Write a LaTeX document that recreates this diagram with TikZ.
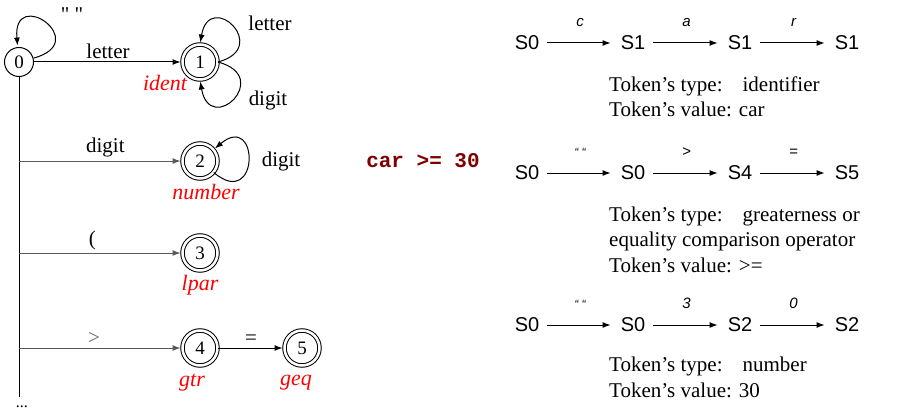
\documentclass[tikz,border=0pt]{standalone}
\usepackage{fontspec}
\setmainfont{Liberation Serif}
\setsansfont{Liberation Sans}
\setmonofont{Liberation Mono}
\usetikzlibrary{arrows.meta}
\definecolor{codered}{RGB}{128,0,0}

\begin{document}
\begin{tikzpicture}[x=1pt, y=1pt, >={Latex[length=8pt,width=6pt]},
  every node/.style={font=\fontsize{21}{23}\selectfont},
  state/.style={circle, draw, line width=1pt, minimum size=29pt, inner sep=0pt, font=\fontsize{19}{21}\selectfont},
  final/.style={state, double, double distance=2.5pt, minimum size=35pt},
  tag/.style={text=red, font=\fontsize{22}{24}\selectfont\itshape},
  lbl/.style={above, inner sep=3pt, text=black},
  trans/.style={->, line width=1pt, shorten >=1.5pt},
  branch/.style={trans, black!65},
  st/.style={font=\sffamily\fontsize{20}{22}\selectfont, inner sep=0pt},
  sym/.style={font=\sffamily\itshape\fontsize{15}{17}\selectfont, inner sep=0pt, above=16pt},
  quo/.style={sym, font=\sffamily\itshape\fontsize{12}{13}\selectfont},
  run/.style={->, line width=1pt, shorten <=8pt, shorten >=10pt},
  info/.style={anchor=base west, align=left, inner sep=0pt, font=\fontsize{21}{25.5}\selectfont}]
\useasboundingbox (0,0) rectangle (906,-412);

\node[state] (n0) at (19,-62) {0};
\node[final] (n1) at (200,-62) {1};
\node[final] (n2) at (200,-161) {2};
\node[final] (n3) at (200,-253) {3};
\node[final] (n4) at (200,-348) {4};
\node[final] (n5) at (302,-348) {5};
\node[tag] (t1) at (165,-83) {ident};
\node[tag] (t2) at (206,-192) {number};
\node[tag] (t3) at (200,-285) {lpar};
\node[tag] (t4) at (192,-383) {gtr};
\node[tag] (t5) at (296,-383) {geq};

\coordinate (b2) at (19,-161);
\coordinate (b3) at (19,-253);
\coordinate (b4) at (19,-348);
\coordinate (end) at (19,-397);
\draw[line width=1pt] (n0) -- (end);
\node[font=\fontsize{16}{18}\selectfont] (more) at (22,-407) {...};

\draw[trans] (n0) to[out=15, in=95, distance=62pt] (n0);
\node[font=\fontsize{21}{23}\selectfont\addfontfeature{Ligatures=TeXOff}] (l0) at (72,-15) {" "};
\draw[trans] (n0) -- node[lbl] {letter} (n1);
\draw[trans] (n1.east) to[out=15, in=80, distance=56pt] (n1.north);
\node (l1) at (270,-23) {letter};
\draw[trans] (n1.east) to[out=-15, in=-80, distance=58pt] (n1.south);
\node (l2) at (268,-100) {digit};
\draw[branch] (b2) -- node[lbl, pos=0.53] {digit} (n2);
\draw[trans] (n2) to[out=-40, in=40, distance=60pt] (n2);
\node (l3) at (281,-161) {digit};
\draw[branch] (b3) -- node[lbl, pos=0.45] {(} (n3);
\draw[branch] (b4) -- node[lbl, pos=0.46, text=black!60] {>} (n4);
\draw[trans] (n4) -- node[lbl] {=} (n5);

\node[font=\ttfamily\bfseries\fontsize{21}{23}\selectfont, text=codered] (expr) at (423,-161) {car >= 30};

\node[st] (a0) at (527,-43) {S0};
\node[st] (a1) at (633,-43) {S1};
\node[st] (a2) at (740,-43) {S1};
\node[st] (a3) at (847,-43) {S1};
\draw[run] (a0) -- node[sym] {c} (a1);
\draw[run] (a1) -- node[sym] {a} (a2);
\draw[run] (a2) -- node[sym] {r} (a3);
\node[info] (i1) at (609,-117) {Token’s type:\hspace{20pt}identifier\\Token’s value: car};

\node[st] (c0) at (527,-173) {S0};
\node[st] (c1) at (633,-173) {S0};
\node[st] (c2) at (740,-173) {S4};
\node[st] (c3) at (847,-173) {S5};
\draw[run] (c0) -- node[quo] {“ “} (c1);
\draw[run] (c1) -- node[sym] {>} (c2);
\draw[run] (c2) -- node[sym] {=} (c3);
\node[info] (i2) at (609,-272) {Token’s type:\hspace{20pt}greaterness or\\equality comparison operator\\Token’s value: >=};

\node[st] (d0) at (527,-325) {S0};
\node[st] (d1) at (633,-325) {S0};
\node[st] (d2) at (740,-325) {S2};
\node[st] (d3) at (847,-325) {S2};
\draw[run] (d0) -- node[quo] {“ “} (d1);
\draw[run] (d1) -- node[sym] {3} (d2);
\draw[run] (d2) -- node[sym] {0} (d3);
\node[info] (i3) at (609,-397) {Token’s type:\hspace{20pt}number\\Token’s value: 30};
\end{tikzpicture}
\end{document}
